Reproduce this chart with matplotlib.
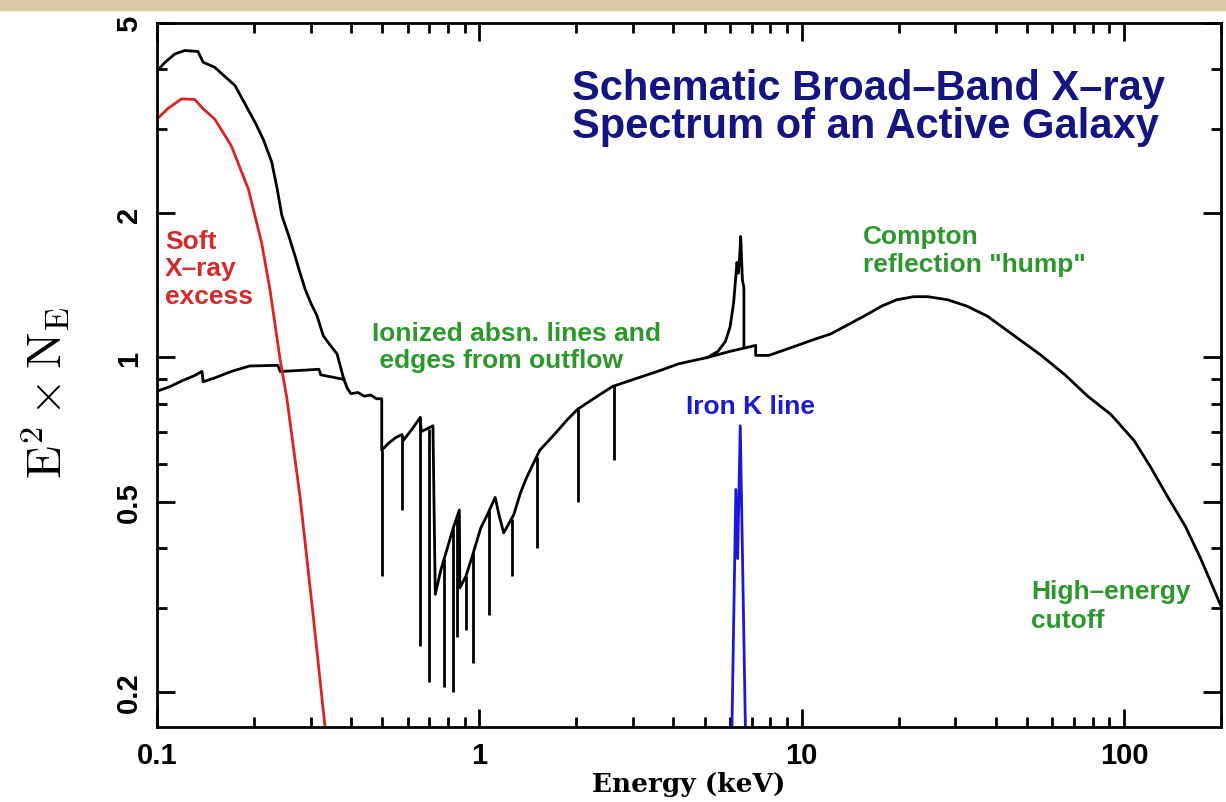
import matplotlib.pyplot as plt
from matplotlib.patches import Rectangle
from matplotlib.ticker import FixedLocator, NullFormatter

# Values (energy in keV, E^2 * N_E)

# total curve at low energy (soft excess + continuum)
total_soft_e = [0.1, 0.106, 0.1137, 0.122, 0.134, 0.139, 0.151, 0.1746, 0.2015, 0.214,
                0.227, 0.236, 0.244, 0.256, 0.268, 0.278, 0.288, 0.30, 0.314, 0.328,
                0.345, 0.362, 0.38]
total_soft_v = [3.97, 4.14, 4.31, 4.38, 4.36, 4.14, 4.04, 3.70, 3.10, 2.85,
                2.56, 2.25, 1.98, 1.80, 1.63, 1.50, 1.39, 1.30, 1.22, 1.11,
                1.06, 1.017, 0.90]

# underlying continuum below 0.4 keV
cont_low_e = [0.1, 0.11, 0.12, 0.13, 0.138, 0.139, 0.15, 0.17, 0.194, 0.237,
              0.241, 0.28, 0.318, 0.322, 0.35, 0.38]
cont_low_v = [0.85, 0.87, 0.895, 0.915, 0.935, 0.89, 0.905, 0.935, 0.96, 0.963,
              0.935, 0.94, 0.945, 0.92, 0.91, 0.90]

# continuum with warm-absorber edges, reflection hump and cutoff
cont_e = [0.38, 0.39, 0.40, 0.42, 0.44, 0.46, 0.48, 0.498, 0.498, 0.52,
          0.55, 0.575, 0.58, 0.62, 0.656, 0.66, 0.69, 0.718, 0.73, 0.76,
          0.796, 0.83, 0.867, 0.87, 0.91, 0.957, 1.01, 1.06, 1.12, 1.15,
          1.19, 1.28, 1.34, 1.40, 1.47, 1.54, 1.64, 1.74, 1.87, 2.02,
          2.26, 2.59, 3.16, 3.65, 4.15, 5.1, 6.0, 7.2, 7.2, 7.9,
          8.6, 9.7, 10.9, 12.3, 13.9, 15.6, 17.7, 19.7, 22.3, 24.6,
          28.4, 32.6, 37.7, 45.7, 55.4, 65.6, 77.2, 91.1, 107.6, 121.0,
          137.0, 155.0, 173.0, 201.0]
cont_v = [0.90, 0.86, 0.84, 0.845, 0.83, 0.835, 0.82, 0.82, 0.64, 0.66,
          0.68, 0.69, 0.67, 0.71, 0.75, 0.70, 0.71, 0.72, 0.32, 0.36,
          0.40, 0.44, 0.48, 0.33, 0.35, 0.39, 0.44, 0.47, 0.51, 0.47,
          0.43, 0.47, 0.52, 0.56, 0.60, 0.64, 0.67, 0.70, 0.74, 0.78,
          0.82, 0.87, 0.91, 0.94, 0.97, 1.00, 1.03, 1.06, 1.01, 1.01,
          1.03, 1.06, 1.09, 1.12, 1.17, 1.22, 1.28, 1.32, 1.34, 1.34,
          1.32, 1.28, 1.22, 1.11, 1.01, 0.92, 0.83, 0.76, 0.67, 0.59,
          0.51, 0.444, 0.38, 0.30]

# narrow absorption lines
abs_line_e = [0.498, 0.575, 0.656, 0.696, 0.776, 0.831, 0.85, 0.91, 0.954, 1.07,
              1.26, 1.51, 2.02, 2.61]
abs_line_top = [0.64, 0.69, 0.75, 0.71, 0.38, 0.44, 0.46, 0.35, 0.39, 0.48,
                0.46, 0.62, 0.78, 0.87]
abs_line_bottom = [0.35, 0.48, 0.25, 0.21, 0.205, 0.20, 0.26, 0.27, 0.23, 0.29,
                   0.35, 0.40, 0.50, 0.61]

# iron line on top of the continuum
fe_total_e = [5.1, 5.5, 5.8, 6.0, 6.15, 6.25, 6.30, 6.36, 6.42, 6.47, 6.55, 6.62, 6.62]
fe_total_v = [1.00, 1.03, 1.08, 1.16, 1.30, 1.48, 1.58, 1.50, 1.62, 1.79, 1.45, 1.40, 1.05]

# soft excess component
soft_e = [0.1, 0.108, 0.119, 0.131, 0.139, 0.151, 0.17, 0.192, 0.211, 0.224,
          0.241, 0.253, 0.278, 0.305, 0.335]
soft_v = [3.15, 3.31, 3.47, 3.46, 3.31, 3.15, 2.77, 2.25, 1.74, 1.39,
          0.99, 0.82, 0.51, 0.29, 0.16]

# iron K line component
fe_line_e = [6.07, 6.25, 6.33, 6.45, 6.7]
fe_line_v = [0.16, 0.53, 0.38, 0.72, 0.16]

plt.rcParams['mathtext.fontset'] = 'cm'
sans = 'Liberation Sans'

fig = plt.figure(figsize=(12.26, 8.03), dpi=100)
ax = fig.add_axes([157 / 1226, 75 / 803, 1064 / 1226, 704 / 803])
fig.patches.append(Rectangle((0, 1 - 11 / 803), 1, 11 / 803, transform=fig.transFigure,
                             color='#dcc8a2', zorder=0))

lw = 2.0
ax.plot(total_soft_e, total_soft_v, color='black', lw=lw)
ax.plot(cont_low_e, cont_low_v, color='black', lw=lw)
ax.plot(cont_e, cont_v, color='black', lw=lw)
ax.vlines(abs_line_e, abs_line_bottom, abs_line_top, color='black', lw=lw)
ax.plot(fe_total_e, fe_total_v, color='black', lw=lw)
ax.plot(soft_e, soft_v, color='#dd2222', lw=lw)
ax.plot(fe_line_e, fe_line_v, color='#1a1ad6', lw=lw)

ax.set_xscale('log')
ax.set_yscale('log')
ax.set_xlim(0.1, 200)
ax.set_ylim(0.169, 5)

ax.xaxis.set_major_locator(FixedLocator([0.1, 1, 10, 100]))
ax.set_xticklabels(['0.1', '1', '10', '100'])
ax.yaxis.set_major_locator(FixedLocator([0.2, 0.5, 1, 2, 5]))
ax.set_yticklabels(['0.2', '0.5', '1', '2', '5'], rotation=90, va='center')
ax.yaxis.set_minor_locator(FixedLocator([0.3, 0.4, 0.6, 0.7, 0.8, 0.9, 3, 4]))
ax.yaxis.set_minor_formatter(NullFormatter())
ax.xaxis.set_minor_formatter(NullFormatter())

ax.tick_params(which='both', direction='in', top=True, right=True, width=2)
ax.tick_params(which='major', length=13)
ax.tick_params(which='minor', length=7)
ax.tick_params(axis='x', which='major', pad=10)
ax.tick_params(axis='y', which='major', pad=10)
for lab in ax.get_xticklabels() + ax.get_yticklabels():
    lab.set_fontfamily(sans)
    lab.set_fontweight('bold')
    lab.set_fontsize(21)
for sp in ax.spines.values():
    sp.set_linewidth(2)

ax.set_xlabel('Energy (keV)', family='DejaVu Serif', fontweight='bold', fontsize=19)
ax.xaxis.set_label_coords(0.5, -0.062)
ax.set_ylabel(r'$\mathrm{E}^2\times\mathrm{N}_\mathrm{E}$', fontsize=35)
ax.yaxis.set_label_coords(-0.08, 0.477)

ax.text(1.94, 4.03, 'Schematic Broad\u2013Band X\u2013ray\nSpectrum of an Active Galaxy',
        family=sans, fontweight='bold', fontsize=30, color='#141482',
        ha='left', va='top', linespacing=0.95)
ax.text(0.106, 1.86, 'Soft\nX\u2013ray\nexcess', family=sans, fontweight='bold',
        fontsize=19, color='#d42a2a', ha='left', va='top', linespacing=1.2)
ax.text(0.466, 1.19, 'Ionized absn. lines and\n edges from outflow', family=sans,
        fontweight='bold', fontsize=19, color='#2a982a', ha='left', va='top', linespacing=1.15)
ax.text(4.38, 0.79, 'Iron K line', family=sans, fontweight='bold', fontsize=19,
        color='#1a1ad6', ha='left', va='center')
ax.text(15.5, 1.90, 'Compton\nreflection "hump"', family=sans, fontweight='bold',
        fontsize=19, color='#2a982a', ha='left', va='top', linespacing=1.2)
ax.text(51.4, 0.344, 'High\u2013energy\ncutoff', family=sans, fontweight='bold',
        fontsize=19, color='#2a982a', ha='left', va='top', linespacing=1.25)

fig.savefig('out.png', dpi=100)
